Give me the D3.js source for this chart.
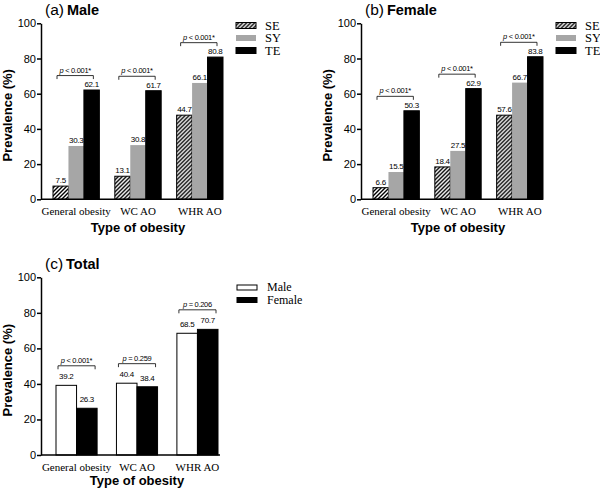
<!DOCTYPE html>
<html>
<head>
<meta charset="utf-8">
<script src="https://cdn.jsdelivr.net/npm/d3@7"></script>
<style>
body { margin: 0; background: #fff; }
svg { display: block; font-family: "Liberation Sans", Arial, sans-serif; }
</style>
</head>
<body>
<script>
const groups = ["General obesity", "WC AO", "WHR AO"];
const yTicks = [0, 20, 40, 60, 80, 100];
const eduSeries = ["SE", "SY", "TE"];
const sexSeries = ["Male", "Female"];

// (a) Male - bar heights as drawn, printed labels as shown
const maleSE = [7.5, 13.1, 47.8];
const maleSY = [30.3, 30.8, 66.1];
const maleTE = [62.1, 61.7, 80.8];
const maleSELabels = ["7.5", "13.1", "44.7"];
const maleSYLabels = ["30.3", "30.8", "66.1"];
const maleTELabels = ["62.1", "61.7", "80.8"];
const maleP = ["< 0.001*", "< 0.001*", "< 0.001*"];

// (b) Female
const femaleSE = [6.6, 18.4, 47.8];
const femaleSY = [15.5, 27.5, 66.3];
const femaleTE = [50.3, 62.9, 81.0];
const femaleSELabels = ["6.6", "18.4", "57.6"];
const femaleSYLabels = ["15.5", "27.5", "66.7"];
const femaleTELabels = ["50.3", "62.9", "83.8"];
const femaleP = ["< 0.001*", "< 0.001*", "< 0.001*"];

// (c) Total
const totalMale = [39.2, 40.4, 68.5];
const totalFemale = [26.3, 38.4, 70.7];
const totalMaleLabels = ["39.2", "40.4", "68.5"];
const totalFemaleLabels = ["26.3", "38.4", "70.7"];
const totalP = ["< 0.001*", "= 0.259", "= 0.206"];

const svg = d3.select("body").append("svg")
    .attr("width", 600)
    .attr("height", 493);

// hatch for SE bars
const pat = svg.append("defs").append("pattern")
    .attr("id", "hatch")
    .attr("patternUnits", "userSpaceOnUse")
    .attr("width", 4).attr("height", 4);
pat.append("rect").attr("width", 4).attr("height", 4).attr("fill", "#fff");
pat.append("path")
    .attr("d", "M-1,1 l2,-2 M0,4 l4,-4 M3,5 l2,-2")
    .attr("stroke", "#000").attr("stroke-width", 1.4);

const fills = {SE: "url(#hatch)", SY: "#a6a6a6", TE: "#000", Male: "#fff", Female: "#000"};
const strokes = {SE: "#000", SY: "none", TE: "#000", Male: "#000", Female: "#000"};

function drawPanel(p) {
    const g = svg.append("g").attr("transform", `translate(${p.dx}, ${p.dy})`);

    const y = d3.scaleLinear().domain([0, 100]).range([p.bottom, p.top]);
    const x0 = d3.scaleBand().domain(groups).range(p.barRange).paddingInner(p.padInner).paddingOuter(0);
    const x1 = d3.scaleBand().domain(p.series).range([0, x0.bandwidth()]);

    const rows = groups.map((grp, i) => ({
        grp: grp,
        bars: p.series.map((s, j) => ({s: s, v: p.values[j][i], label: p.labels[j][i]}))
    }));

    // bars
    const grpSel = g.selectAll(".grp").data(rows).enter().append("g")
        .attr("transform", d => `translate(${x0(d.grp)}, 0)`);
    grpSel.selectAll("rect").data(d => d.bars).enter().append("rect")
        .attr("x", d => x1(d.s))
        .attr("y", d => y(d.v))
        .attr("width", x1.bandwidth())
        .attr("height", d => y(0) - y(d.v))
        .attr("fill", d => fills[d.s])
        .attr("stroke", d => strokes[d.s])
        .attr("stroke-width", 1);
    grpSel.selectAll(".vl").data(d => d.bars).enter().append("text")
        .attr("x", d => x1(d.s) + x1.bandwidth() / 2)
        .attr("y", d => y(d.v) - p.labelGap)
        .attr("text-anchor", "middle")
        .attr("font-size", 8)
        .attr("letter-spacing", -0.3)
        .text(d => d.label);

    // p-value brackets
    grpSel.each(function(d, i) {
        const top = d3.max(d.bars, b => b.v) + p.bracketGap;
        const by = y(top);
        const xa = p.bracketIn[0], xb = x0.bandwidth() - p.bracketIn[1];
        d3.select(this).append("path")
            .attr("d", `M${xa},${by + 3.5}V${by}H${xb}V${by + 3.5}`)
            .attr("fill", "none").attr("stroke", "#000").attr("stroke-width", 0.8);
        const t = d3.select(this).append("text")
            .attr("x", (xa + xb) / 2)
            .attr("y", by - 3)
            .attr("text-anchor", "middle")
            .attr("font-size", 7.5)
            .attr("letter-spacing", -0.3);
        t.append("tspan").attr("font-style", "italic").text("p");
        t.append("tspan").text(" " + p.pvals[i]);
    });

    // y axis
    const ya = g.append("g")
        .attr("transform", `translate(${p.axisX}, 0)`)
        .call(d3.axisLeft(y).tickValues(yTicks).tickSize(4).tickSizeOuter(0).tickPadding(1));
    ya.selectAll("path, line").attr("stroke", "#000").attr("stroke-width", 1.5);
    ya.selectAll("text").attr("font-size", 11).attr("fill", "#000")
        .attr("font-family", "'Liberation Sans', Arial, sans-serif");

    // x axis
    const xa = g.append("g")
        .attr("transform", `translate(0, ${p.bottom})`)
        .call(d3.axisBottom(x0).tickSize(0).tickPadding(p.catPad));
    xa.select(".domain").attr("d", `M${p.axisX},0H${p.axisEnd}`)
        .attr("stroke", "#000").attr("stroke-width", 1.5);
    xa.selectAll("text").attr("font-size", 11).attr("fill", "#000")
        .attr("font-family", "'Liberation Serif', 'Times New Roman', serif");

    // axis titles
    const mid = (p.barRange[0] + p.barRange[1]) / 2;
    g.append("text")
        .attr("x", mid).attr("y", p.xTitleY)
        .attr("text-anchor", "middle")
        .attr("font-size", 13).attr("font-weight", "bold")
        .text("Type of obesity");
    g.append("text")
        .attr("transform", `translate(${p.axisX - 29}, ${(p.top + p.bottom) / 2 + 4}) rotate(-90)`)
        .attr("text-anchor", "middle")
        .attr("font-size", 13).attr("font-weight", "bold")
        .text("Prevalence (%)");

    // panel title
    const tt = g.append("text").attr("x", p.axisX + 4).attr("y", p.titleY);
    tt.append("tspan").attr("font-size", 15.5).text(`(${p.letter})`);
    tt.append("tspan").attr("font-size", 14.5).attr("font-weight", "bold").attr("dx", 3).text(p.name);

    // legend
    const lg = g.selectAll(".lg").data(p.series).enter().append("g")
        .attr("transform", (d, i) => `translate(${p.legX}, ${p.legY + i * p.legStep})`);
    lg.append("rect")
        .attr("x", 0).attr("y", -p.swH / 2)
        .attr("width", 20).attr("height", p.swH)
        .attr("fill", d => fills[d])
        .attr("stroke", d => strokes[d]).attr("stroke-width", 1);
    lg.append("text")
        .attr("x", p.legTextDx).attr("y", p.legFont * 0.33)
        .attr("font-family", "'Liberation Serif', 'Times New Roman', serif")
        .attr("font-size", p.legFont)
        .text(d => d);
}

const eduGeom = {
    dy: 0, top: 23.3, bottom: 199.3, axisX: 41, axisEnd: 223,
    barRange: [53, 223], padInner: 0.25, labelGap: 3, bracketGap: 8.2, bracketIn: [4, 6],
    catPad: 8, xTitleY: 232, titleY: 15, 
    legX: 236, legY: 25.5, legStep: 12.5, swH: 6, legTextDx: 29, legFont: 12.5,
    series: eduSeries
};

drawPanel(Object.assign({}, eduGeom, {
    dx: 0, letter: "a", name: "Male",
    values: [maleSE, maleSY, maleTE],
    labels: [maleSELabels, maleSYLabels, maleTELabels],
    pvals: maleP
}));

drawPanel(Object.assign({}, eduGeom, {
    dx: 320, letter: "b", name: "Female",
    values: [femaleSE, femaleSY, femaleTE],
    labels: [femaleSELabels, femaleSYLabels, femaleTELabels],
    pvals: femaleP
}));

drawPanel({
    dx: 0, dy: 0, top: 277.3, bottom: 455, axisX: 41, axisEnd: 220,
    barRange: [56, 218], padInner: 0.32, labelGap: 6, bracketGap: 11, bracketIn: [2, 2],
    catPad: 8.5, xTitleY: 485, titleY: 269,
    legX: 237, legY: 287.5, legStep: 12.5, swH: 5, legTextDx: 30, legFont: 12,
    series: sexSeries, letter: "c", name: "Total",
    values: [totalMale, totalFemale],
    labels: [totalMaleLabels, totalFemaleLabels],
    pvals: totalP
});
</script>
</body>
</html>
